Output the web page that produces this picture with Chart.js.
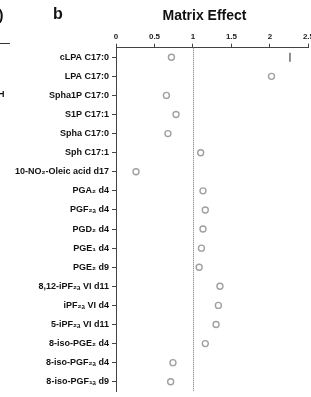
<!DOCTYPE html>
<html>
<head>
<meta charset="utf-8">
<script src="https://cdn.jsdelivr.net/npm/chart.js@4/dist/chart.umd.min.js"></script>
<style>
  html, body { margin: 0; padding: 0; background: #fff; overflow: hidden; }
  #wrap { width: 316px; height: 397px; position: relative; }
</style>
</head>
<body>
<div id="wrap"><canvas id="matrixChart"></canvas></div>
<script>
// compuestos (eje Y) y efecto matriz
const compounds = [
  'cLPA C17:0', 'LPA C17:0', 'Spha1P C17:0', 'S1P C17:1', 'Spha C17:0', 'Sph C17:1',
  '10-NO₂-Oleic acid d17', 'PGA₂ d4', 'PGF₂ₐ d4', 'PGD₂ d4', 'PGE₁ d4', 'PGE₂ d9',
  '8,12-iPF₂ₐ VI d11', 'iPF₂ₐ VI d4', '5-iPF₂ₐ VI d11', '8-iso-PGE₂ d4',
  '8-iso-PGF₂ₐ d4', '8-iso-PGF₁ₐ d9'
];
const matrixEffect = [
  0.72, 2.02, 0.655, 0.78, 0.675, 1.10,
  0.26, 1.13, 1.16, 1.13, 1.11, 1.08,
  1.35, 1.33, 1.30, 1.16,
  0.74, 0.71
];
// marca vertical suelta en la fila de cLPA
const markerCompound = ['cLPA C17:0'];
const markerValue = [2.26];
const xTicks = [0, 0.5, 1, 1.5, 2, 2.5];

const FONT = 'Liberation Sans, Arial, sans-serif';

// líneas y textos extra: línea punteada en 1, título, letra del panel
const decorations = {
  id: 'decorations',
  beforeDatasetsDraw(chart) {
    const { ctx, chartArea, scales } = chart;
    const x1 = scales.x.getPixelForValue(1);
    ctx.save();
    ctx.strokeStyle = '#707070';
    ctx.lineWidth = 1;
    ctx.setLineDash([1, 1]);
    ctx.beginPath();
    ctx.moveTo(Math.round(x1) + 0.5, chartArea.top);
    ctx.lineTo(Math.round(x1) + 0.5, chartArea.bottom);
    ctx.stroke();
    ctx.restore();
  },
  afterDraw(chart) {
    const { ctx } = chart;
    ctx.save();
    ctx.fillStyle = '#111';
    ctx.textBaseline = 'middle';
    ctx.font = 'bold 14px ' + FONT;
    ctx.textAlign = 'center';
    ctx.fillText('Matrix Effect', 204.5, 16.5);
    ctx.font = 'bold 16px ' + FONT;
    ctx.textAlign = 'left';
    ctx.fillText('b', 53, 15);
    // restos del panel a (recortado)
    ctx.font = 'bold 15px ' + FONT;
    ctx.textAlign = 'right';
    ctx.fillText(')', 3.5, 16);
    ctx.font = 'bold 9px ' + FONT;
    ctx.fillText('H', 4.5, 95);
    ctx.strokeStyle = '#333';
    ctx.lineWidth = 1;
    ctx.beginPath();
    ctx.moveTo(0, 43.5);
    ctx.lineTo(10, 43.5);
    ctx.stroke();
    ctx.restore();
  }
};

new Chart(document.getElementById('matrixChart'), {
  type: 'scatter',
  data: {
    datasets: [{
      label: 'Matrix Effect',
      data: compounds.map((c, i) => ({ x: matrixEffect[i], y: c })),
      pointStyle: 'circle',
      pointRadius: 3,
      pointBorderWidth: 1.4,
      pointBorderColor: '#a0a0a0',
      pointBackgroundColor: 'rgba(255,255,255,0)',
      pointHoverRadius: 3
    }, {
      label: 'marker',
      data: markerCompound.map((c, i) => ({ x: markerValue[i], y: c })),
      pointStyle: 'line',
      rotation: 90,
      pointRadius: 4.5,
      pointBorderWidth: 1.2,
      pointBorderColor: '#444'
    }]
  },
  options: {
    responsive: true,
    maintainAspectRatio: false,
    animation: false,
    layout: { padding: { top: 0, left: 0, right: 0, bottom: 3 } },
    plugins: { legend: { display: false }, tooltip: { enabled: false }, title: { display: false } },
    scales: {
      x: {
        type: 'linear',
        position: 'top',
        min: 0,
        max: 2.5,
        afterBuildTicks: (scale) => { scale.ticks = xTicks.map(v => ({ value: v })); },
        afterFit: (scale) => {
          scale.height = 47.7;
        },
        ticks: {
          color: '#222',
          font: { family: FONT, size: 8, weight: 'bold' },
          padding: 2,
          maxRotation: 0,
          callback: (v) => String(v)
        },
        grid: { display: true, drawOnChartArea: false, drawTicks: true, tickLength: 4, color: '#444' },
        border: { display: true, color: '#444', width: 1 }
      },
      y: {
        type: 'category',
        labels: compounds,
        offset: true,
        afterFit: (scale) => {
          scale.width = 116;
          scale.paddingTop = 0;
          scale.paddingBottom = 0;
        },
        ticks: {
          color: '#111',
          font: { family: FONT, size: 9, weight: 'bold' },
          padding: 3,
          autoSkip: false
        },
        grid: { display: true, drawOnChartArea: false, drawTicks: true, tickLength: 4, color: '#444', offset: false },
        border: { display: true, color: '#444', width: 1 }
      }
    }
  },
  plugins: [decorations]
});
</script>
</body>
</html>
